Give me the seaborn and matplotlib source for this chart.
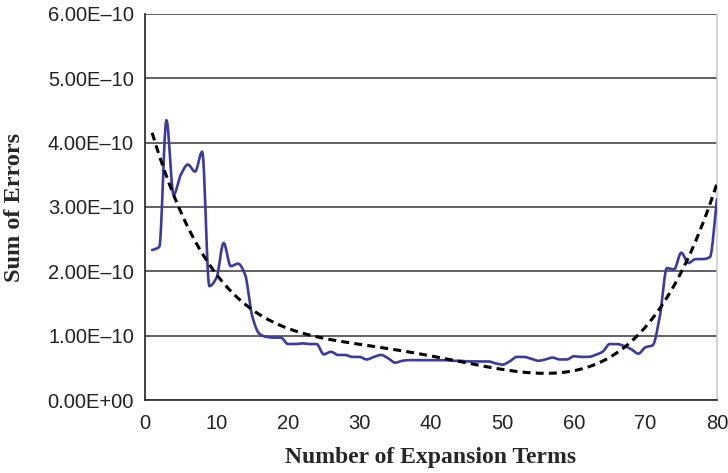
import numpy as np
import pandas as pd
import matplotlib
matplotlib.use("Agg")
import matplotlib.pyplot as plt
import seaborn as sns
from matplotlib.ticker import FixedLocator, FixedFormatter

# ---- data (errors in units of 1e-10) ----
terms = list(range(1, 81))
errors_e10 = [
    2.33, 2.38, 4.35, 3.19, 3.50, 3.66, 3.55, 3.86, 1.77, 1.90,
    2.44, 2.08, 2.12, 1.95, 1.30, 1.03, 0.98, 0.97, 0.97, 0.87,
    0.87, 0.88, 0.87, 0.87, 0.71, 0.75, 0.70, 0.70, 0.67, 0.67,
    0.63, 0.67, 0.70, 0.65, 0.58, 0.61, 0.62, 0.62, 0.62, 0.62,
    0.62, 0.62, 0.61, 0.61, 0.60, 0.60, 0.60, 0.60, 0.57, 0.55,
    0.60, 0.67, 0.67, 0.64, 0.61, 0.63, 0.66, 0.63, 0.63, 0.68,
    0.67, 0.67, 0.70, 0.75, 0.87, 0.87, 0.84, 0.79, 0.72, 0.82,
    0.85, 1.30, 2.05, 2.03, 2.29, 2.13, 2.19, 2.19, 2.22, 3.12,
]
# trend line (units of 1e-10)
trend_x = [1, 2.3, 4.4, 6.1, 8.2, 10.7, 14.0, 17.7, 20.7, 23.1, 28.2, 34.3,
           39.4, 44.1, 50.1, 55.7, 58.5, 61.8, 66.9, 71.6, 75.3, 78.1, 80]
trend_y_e10 = [4.15, 3.73, 3.06, 2.64, 2.23, 1.87, 1.50, 1.24, 1.09, 1.00, 0.88, 0.78,
               0.70, 0.61, 0.48, 0.415, 0.425, 0.52, 0.78, 1.35, 2.07, 2.80, 3.34]
y_ticks = [0, 1e-10, 2e-10, 3e-10, 4e-10, 5e-10, 6e-10]
y_tick_labels = ["0.00E+00", "1.00E\u201310", "2.00E\u201310", "3.00E\u201310",
                 "4.00E\u201310", "5.00E\u201310", "6.00E\u201310"]
x_ticks = [0, 10, 20, 30, 40, 50, 60, 70, 80]


def smooth_line(xs, ys, n=12):
    """Smoothed-line rendering through the points (monotone cubic Hermite)."""
    xs = np.asarray(xs, float)
    ys = np.asarray(ys, float)
    h = np.diff(xs)
    d = np.diff(ys) / h
    m = np.zeros_like(ys)
    m[0], m[-1] = d[0], d[-1]
    for k in range(1, len(ys) - 1):
        if d[k - 1] * d[k] > 0:
            m[k] = 2.0 / (1.0 / d[k - 1] + 1.0 / d[k])
    t = np.linspace(0, 1, n, endpoint=False)
    h00 = 2 * t ** 3 - 3 * t ** 2 + 1
    h10 = t ** 3 - 2 * t ** 2 + t
    h01 = -2 * t ** 3 + 3 * t ** 2
    h11 = t ** 3 - t ** 2
    outx, outy = [], []
    for k in range(len(xs) - 1):
        outx.extend(xs[k] + t * h[k])
        outy.extend(h00 * ys[k] + h10 * h[k] * m[k] + h01 * ys[k + 1] + h11 * h[k] * m[k + 1])
    outx.append(xs[-1])
    outy.append(ys[-1])
    return np.array(outx), np.array(outy)


sx, sy = smooth_line(terms, errors_e10)
df = pd.DataFrame({"terms": sx, "error": sy * 1e-10})

coef = np.polyfit(trend_x, trend_y_e10, 6)
xt = np.linspace(min(trend_x), max(trend_x), 400)
trend = pd.DataFrame({"terms": xt, "error": np.polyval(coef, xt) * 1e-10})

sns.set_theme(style="white")
plt.rcParams["font.family"] = ["Liberation Sans", "DejaVu Sans"]

fig = plt.figure(figsize=(7.28, 4.73), dpi=100)
ax = fig.add_axes([145 / 728, 1 - 400 / 473, (717 - 145) / 728, (400 - 14) / 473])

for yv in y_ticks:
    ax.axhline(yv, color="#555555", lw=1.3, zorder=1)

sns.lineplot(data=df, x="terms", y="error", ax=ax, color="#3a3aa0", lw=1.9,
             zorder=3, sort=False, estimator=None)
sns.lineplot(data=trend, x="terms", y="error", ax=ax, color="black", lw=2.2,
             zorder=4, linestyle=(0, (2.6, 1.7)))

ax.set_xlim(0, 80)
ax.set_ylim(0, 6e-10)
ax.yaxis.set_major_locator(FixedLocator(y_ticks))
ax.yaxis.set_major_formatter(FixedFormatter(y_tick_labels))
ax.xaxis.set_major_locator(FixedLocator(x_ticks))
ax.xaxis.set_major_formatter(FixedFormatter([str(v) for v in x_ticks]))

ax.tick_params(axis="both", which="major", direction="out", length=7, width=1.2,
               color="#333333", labelsize=14.5, labelcolor="#222222", pad=1)
ax.tick_params(axis="x", pad=3)

for s in ["left", "bottom"]:
    ax.spines[s].set_visible(True)
    ax.spines[s].set_color("#333333")
    ax.spines[s].set_linewidth(1.3)
ax.spines["top"].set_visible(False)
ax.spines["right"].set_visible(True)
ax.spines["right"].set_color("#cccccc")
ax.spines["right"].set_linewidth(1.2)

ax.set_xlabel("Number of Expansion Terms", fontsize=17, fontweight="bold",
              family=["Liberation Serif", "DejaVu Serif"])
ax.set_ylabel("Sum of Errors", fontsize=17.5, fontweight="bold",
              family=["Liberation Serif", "DejaVu Serif"])
ax.xaxis.label.set_va("center")
ax.yaxis.label.set_va("center")
ax.xaxis.set_label_coords(0.5, (400 - 457) / 386)
ax.yaxis.set_label_coords((15 - 145) / 572, 0.5)
if ax.get_legend():
    ax.get_legend().remove()

fig.savefig("out.png", dpi=100)
